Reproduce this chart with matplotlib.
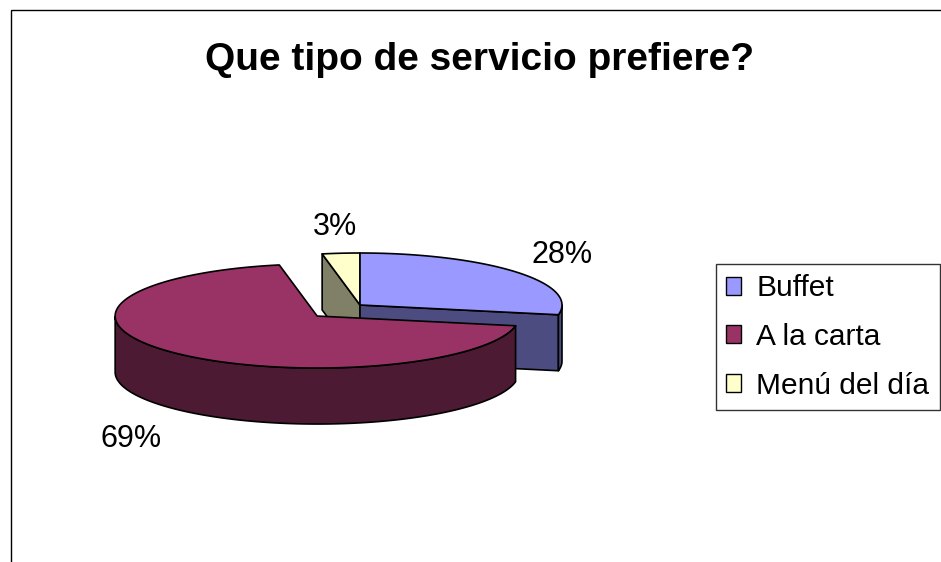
import numpy as np
import matplotlib.pyplot as plt
from matplotlib.patches import Polygon, Rectangle, Patch

plt.rcParams['font.family'] = ['Liberation Sans', 'DejaVu Sans']

# datos del grafico
titulo = "Que tipo de servicio prefiere?"
etiquetas = ["Buffet", "A la carta", "Menú del día"]
valores = [28, 69, 3]
colores_sup = ["#9999FF", "#993366", "#FFFFCC"]
colores_lado = ["#4C4C80", "#4D1A33", "#808066"]
separacion = [0.0, 0.3, 0.0]

# geometria de la torta (en pixeles)
cx, cy = 360, 305
rx, ry = 202, 52
prof = 56

fig = plt.figure(figsize=(9.41, 5.62), dpi=100)
ax = fig.add_axes([0, 0, 1, 1])
ax.set_xlim(0, 941)
ax.set_ylim(562, 0)
ax.axis("off")

# borde del area del grafico
ax.add_patch(Rectangle((11, 10), 1200, 1200, fill=False, edgecolor="black", lw=1))

ax.text(480, 70, titulo, ha="center", va="baseline", fontsize=28, fontweight="bold")

total = sum(valores)
porcentajes = [v / total * 100 for v in valores]

# angulos: empieza a las 12 y va en sentido horario
rebanadas = []
ang = 90.0
for i, v in enumerate(valores):
    a2 = ang
    a1 = ang - v / total * 360
    mid = np.radians((a1 + a2) / 2)
    ox = cx + separacion[i] * rx * np.cos(mid)
    oy = cy - separacion[i] * ry * np.sin(mid)
    rebanadas.append((i, a1, a2, mid, ox, oy))
    ang = a1

def punto(ox, oy, t, dz=0):
    return (ox + rx * np.cos(t), oy - ry * np.sin(t) + dz)

# se dibuja de atras hacia adelante
orden = sorted(rebanadas, key=lambda r: -np.sin(r[3]))
kw = dict(edgecolor="black", lw=1.2, joinstyle="round")
for i, a1, a2, mid, ox, oy in orden:
    t = np.radians(np.linspace(a1, a2, 300))
    # caras radiales
    for fi, normal in ((a1, a1 - 90), (a2, a2 + 90)):
        if np.sin(np.radians(normal)) < 0:
            f = np.radians(fi)
            p = punto(ox, oy, f)
            quad = [(ox, oy), p, (p[0], p[1] + prof), (ox, oy + prof)]
            ax.add_patch(Polygon(quad, closed=True, facecolor=colores_lado[i], **kw))
    # pared exterior visible
    tv = t[np.sin(t) <= 1e-9]
    if len(tv) > 1:
        arriba = [punto(ox, oy, tt) for tt in tv]
        abajo = [punto(ox, oy, tt, prof) for tt in tv[::-1]]
        ax.add_patch(Polygon(arriba + abajo, closed=True, facecolor=colores_lado[i], **kw))
    # cara superior
    sup = [(ox, oy)] + [punto(ox, oy, tt) for tt in t]
    ax.add_patch(Polygon(sup, closed=True, facecolor=colores_sup[i], **kw))

# etiquetas de porcentaje
for i, a1, a2, mid, ox, oy in rebanadas:
    s = np.sin(mid)
    lx = ox + 1.3 * rx * np.cos(mid)
    ly = oy - 1.5 * ry * s
    if s < 0:
        ly += prof + 12
    ax.text(lx, ly, f"{porcentajes[i]:.0f}%", ha="center", va="center", fontsize=22)

handles = [Patch(facecolor=c, edgecolor="black", lw=1) for c in colores_sup]
leg = ax.legend(handles, etiquetas, loc="upper left", bbox_to_anchor=(716 / 941, 1 - 264 / 562),
                fontsize=21.5, frameon=True, fancybox=False, edgecolor="black",
                handlelength=0.5, handleheight=0.55, handletextpad=0.5,
                labelspacing=0.69, borderpad=0.35, borderaxespad=0)
leg.get_frame().set_linewidth(1)

fig.savefig("out.png", dpi=100)
